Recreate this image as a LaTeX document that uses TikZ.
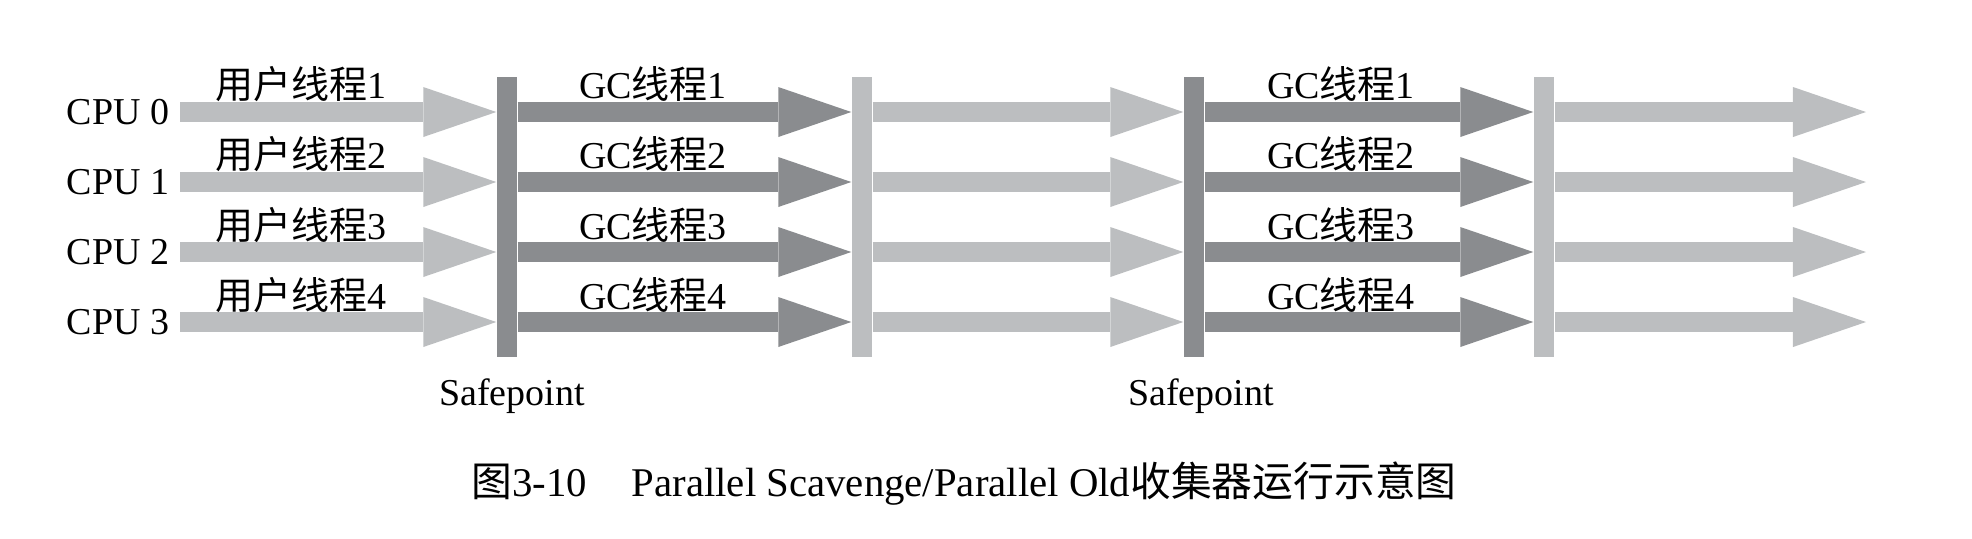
\documentclass[tikz,border=0pt]{standalone}
\usepackage{fontspec}
\setmainfont{Liberation Serif}
\newfontfamily\cjk{Noto Sans CJK SC}
\usepackage{tikz}
\usetikzlibrary{arrows.meta}

\definecolor{lightbar}{RGB}{188,190,192}
\definecolor{darkbar}{RGB}{138,140,143}

\begin{document}
\begin{tikzpicture}[x=0.01cm, y=-0.01cm,
  font=\fontsize{10.8}{13}\selectfont,
  fat/.style={line width=0.2cm, -{Triangle[length=0.73cm, width=0.5cm, line width=0pt]}},
  userarrow/.style={fat, draw=lightbar},
  gcarrow/.style={fat, draw=darkbar},
  bar/.style={draw=none, inner sep=0pt, minimum width=0.2cm, minimum height=2.8cm},
  label/.style={inner sep=0pt}]

\useasboundingbox (0,0) rectangle (1972,538);

% Safepoint and resume bars
\node[bar, fill=darkbar]  (sp1) at (507,217) {};
\node[bar, fill=lightbar] (rs1) at (862,217) {};
\node[bar, fill=darkbar]  (sp2) at (1194,217) {};
\node[bar, fill=lightbar] (rs2) at (1544,217) {};
\coordinate (end) at (1866,217);

\node[label] (spl1) at (512,396) {Safepoint};
\node[label] (spl2) at (1201,396) {Safepoint};

%
% CPU 0
%
\node[label, anchor=east] (cpu0) at (170,112) {CPU 0};
\node[label] (u0) at (301,84) {{\cjk 用户线程}1};
\node[label] (ga0) at (653,84) {GC{\cjk 线程}1};
\node[label] (gb0) at (1341,84) {GC{\cjk 线程}1};

\draw[userarrow, shorten <=0.1cm] (cpu0.east) -- (sp1.west |- cpu0.east);
\draw[gcarrow] (sp1.east |- cpu0.east) -- (rs1.west |- cpu0.east);
\draw[userarrow] (rs1.east |- cpu0.east) -- (sp2.west |- cpu0.east);
\draw[gcarrow] (sp2.east |- cpu0.east) -- (rs2.west |- cpu0.east);
\draw[userarrow] (rs2.east |- cpu0.east) -- (end |- cpu0.east);

%
% CPU 1
%
\node[label, anchor=east] (cpu1) at (170,182) {CPU 1};
\node[label] (u1) at (301,154) {{\cjk 用户线程}2};
\node[label] (ga1) at (653,154) {GC{\cjk 线程}2};
\node[label] (gb1) at (1341,154) {GC{\cjk 线程}2};

\draw[userarrow, shorten <=0.1cm] (cpu1.east) -- (sp1.west |- cpu1.east);
\draw[gcarrow] (sp1.east |- cpu1.east) -- (rs1.west |- cpu1.east);
\draw[userarrow] (rs1.east |- cpu1.east) -- (sp2.west |- cpu1.east);
\draw[gcarrow] (sp2.east |- cpu1.east) -- (rs2.west |- cpu1.east);
\draw[userarrow] (rs2.east |- cpu1.east) -- (end |- cpu1.east);

%
% CPU 2
%
\node[label, anchor=east] (cpu2) at (170,252) {CPU 2};
\node[label] (u2) at (301,225) {{\cjk 用户线程}3};
\node[label] (ga2) at (653,225) {GC{\cjk 线程}3};
\node[label] (gb2) at (1341,225) {GC{\cjk 线程}3};

\draw[userarrow, shorten <=0.1cm] (cpu2.east) -- (sp1.west |- cpu2.east);
\draw[gcarrow] (sp1.east |- cpu2.east) -- (rs1.west |- cpu2.east);
\draw[userarrow] (rs1.east |- cpu2.east) -- (sp2.west |- cpu2.east);
\draw[gcarrow] (sp2.east |- cpu2.east) -- (rs2.west |- cpu2.east);
\draw[userarrow] (rs2.east |- cpu2.east) -- (end |- cpu2.east);

%
% CPU 3
%
\node[label, anchor=east] (cpu3) at (170,322) {CPU 3};
\node[label] (u3) at (301,295) {{\cjk 用户线程}4};
\node[label] (ga3) at (653,295) {GC{\cjk 线程}4};
\node[label] (gb3) at (1341,295) {GC{\cjk 线程}4};

\draw[userarrow, shorten <=0.1cm] (cpu3.east) -- (sp1.west |- cpu3.east);
\draw[gcarrow] (sp1.east |- cpu3.east) -- (rs1.west |- cpu3.east);
\draw[userarrow] (rs1.east |- cpu3.east) -- (sp2.west |- cpu3.east);
\draw[gcarrow] (sp2.east |- cpu3.east) -- (rs2.west |- cpu3.east);
\draw[userarrow] (rs2.east |- cpu3.east) -- (end |- cpu3.east);

% Caption
\node[label, font=\fontsize{11.6}{14}\selectfont] (cap) at (964,484)
  {{\cjk 图}3-10\hspace{1.1em}Parallel Scavenge/Parallel Old{\cjk 收集器运行示意图}};

\end{tikzpicture}
\end{document}
